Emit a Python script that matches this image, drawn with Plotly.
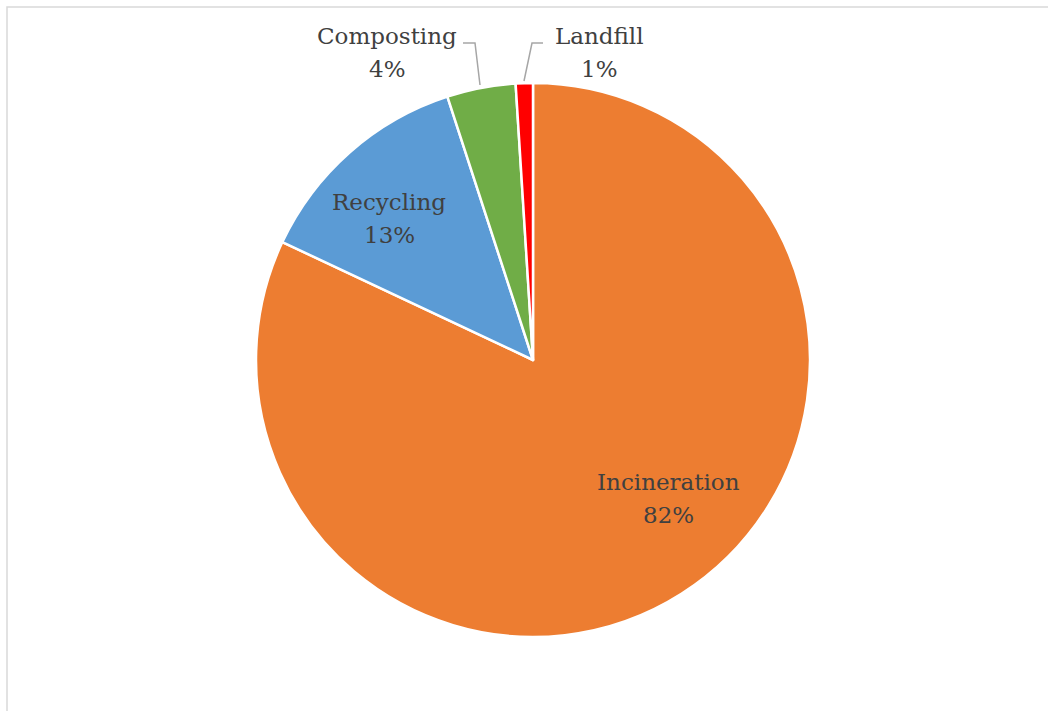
import math
import plotly.graph_objects as go

# Waste treatment shares (%)
categories = ["Incineration", "Recycling", "Composting", "Landfill"]
shares = [82, 13, 4, 1]
colors = ["#ED7D31", "#5B9BD5", "#70AD47", "#FF0000"]

W, H = 1048, 711
cx, cy, r = 533, 360, 277  # pie centre and radius in pixels
LINE_GAP = 33              # baseline-to-baseline spacing of the two label lines

fig = go.Figure(go.Pie(
    labels=categories,
    values=shares,
    sort=False,
    direction="clockwise",
    rotation=0,
    marker=dict(colors=colors, line=dict(color="white", width=2.5)),
    textinfo="none",
    hoverinfo="label+percent",
    showlegend=False,
    domain=dict(x=[(cx - r) / W, (cx + r) / W],
                y=[1 - (cy + r) / H, 1 - (cy - r) / H]),
))

font = dict(family="DejaVu Serif", size=23, color="#404040")
total = sum(shares)


def px(x, y):
    return x / W, 1 - y / H


# label placement: inside labels along a ray from the centre (angle offset, radius fraction);
# outside labels at a fixed spot above the pie with a bent leader line
inside = {"Incineration": (-12, 0.70), "Recycling": (-4, 0.73)}
outside = {"Composting": ((387, 52), [(463, 43), (475, 43), (480, 85)]),
           "Landfill": ((599, 52), [(543, 43), (532, 43), (524, 81)])}

start = 0.0
annotations, shapes = [], []
for name, v in zip(categories, shares):
    frac = v / total
    mid = (start + frac / 2) * 360
    start += frac
    if name in inside:
        off, rf = inside[name]
        a = math.radians(mid + off)
        x = cx + rf * r * math.sin(a)
        y = cy - rf * r * math.cos(a)
    else:
        (x, y), pts = outside[name]
        path = "M " + " L ".join(f"{px(p[0], p[1])[0]},{px(p[0], p[1])[1]}" for p in pts)
        shapes.append(dict(type="path", xref="paper", yref="paper", path=path,
                           line=dict(color="#A6A6A6", width=1.5)))
    for line, dy in ((name, -LINE_GAP / 2), (f"{round(frac * 100)}%", LINE_GAP / 2)):
        ax, ay = px(x, y + dy)
        annotations.append(dict(x=ax, y=ay, xref="paper", yref="paper", text=line,
                                showarrow=False, font=font,
                                xanchor="center", yanchor="middle"))

# chart area border
shapes.append(dict(type="rect", xref="paper", yref="paper",
                   x0=7 / W, y0=-0.05, x1=1.05, y1=1 - 7 / H,
                   line=dict(color="#D9D9D9", width=1.5)))

fig.update_layout(
    width=W, height=H,
    margin=dict(l=0, r=0, t=0, b=0),
    paper_bgcolor="white",
    plot_bgcolor="white",
    font=font,
    annotations=annotations,
    shapes=shapes,
)

fig.write_html("out.html")
